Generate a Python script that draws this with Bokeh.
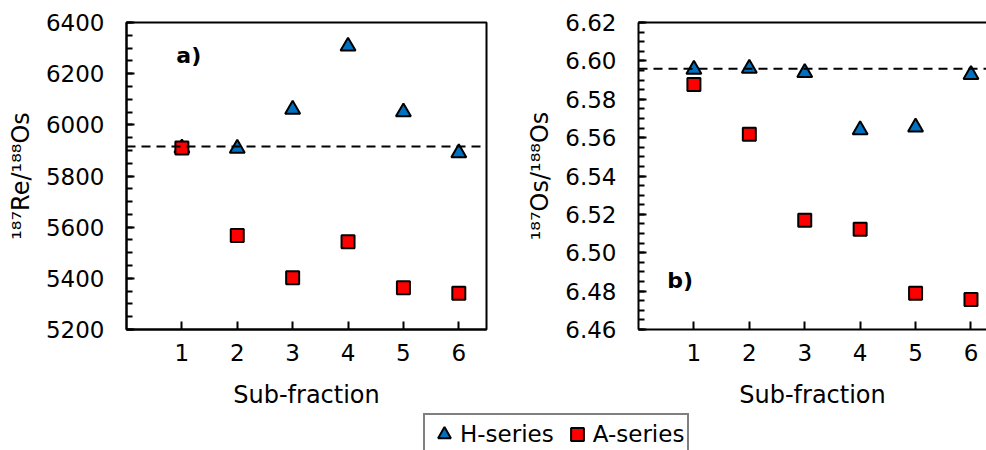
from bokeh.plotting import figure
from bokeh.layouts import column, row
from bokeh.models import (FixedTicker, PrintfTickFormatter, Span, Label, Legend,
                          LegendItem, LinearAxis, Range1d)
from bokeh.embed import file_html
from bokeh.resources import INLINE

# Sub-fractions and measured isotope ratios
sub_fraction = [1, 2, 3, 4, 5, 6]
re_os_h = [5909, 5908, 6060, 6307, 6050, 5890]
re_os_a = [5909, 5567, 5402, 5543, 5363, 5342]
os_os_h = [6.5956, 6.5961, 6.5939, 6.5640, 6.5654, 6.5928]
os_os_a = [6.5877, 6.5618, 6.5170, 6.5123, 6.4789, 6.4756]

# Reference ratios (dashed lines)
re_os_ref = 5915
os_os_ref = 6.5959

# Axis ticks
x_ticks = [1, 2, 3, 4, 5, 6]
re_os_ticks = [5200, 5400, 5600, 5800, 6000, 6200, 6400]
re_os_minor = [5200 + 50 * i for i in range(25)]
os_os_ticks = [6.46, 6.48, 6.50, 6.52, 6.54, 6.56, 6.58, 6.60, 6.62]
os_os_minor = [round(6.46 + 0.005 * i, 3) for i in range(33)]

FONT = "DejaVu Sans"
BLUE = "#0070C0"
RED = "#FF0000"
TICK_SIZE = "23px"
TITLE_SIZE = "24px"
ROW_H = 412
FRAME_BOTTOM = 329


def style_panel(p, yticks, yminor):
    p.xgrid.visible = False
    p.ygrid.visible = False
    for ax in (p.xaxis[0], p.yaxis[0]):
        ax.axis_line_color = "black"
        ax.axis_line_width = 2
        ax.major_tick_line_color = "black"
        ax.major_tick_line_width = 2
        ax.major_tick_in = 8
        ax.major_tick_out = 0
        ax.minor_tick_line_color = "black"
        ax.minor_tick_line_width = 2
        ax.minor_tick_in = 6
        ax.minor_tick_out = 0
        ax.major_label_text_font = FONT
        ax.major_label_text_font_size = TICK_SIZE
        ax.major_label_text_color = "black"
        ax.axis_label_text_font = FONT
        ax.axis_label_text_font_size = TITLE_SIZE
        ax.axis_label_text_font_style = "normal"
        ax.axis_label_text_color = "black"
    p.xaxis[0].ticker = FixedTicker(ticks=x_ticks)
    p.xaxis[0].minor_tick_line_color = None
    p.xaxis[0].major_label_standoff = 14
    p.xaxis[0].axis_label_standoff = 17
    p.xaxis[0].axis_label = "Sub-fraction"
    p.yaxis[0].ticker = FixedTicker(ticks=yticks, minor_ticks=yminor)
    p.yaxis[0].major_label_standoff = 22
    p.yaxis[0].axis_label_standoff = 8
    p.yaxis[0].major_label_orientation = "horizontal"


def add_points(p, yh, ya):
    rh = p.scatter(sub_fraction, yh, marker="triangle", size=15,
                   fill_color=BLUE, line_color="black", line_width=2)
    ra = p.scatter(sub_fraction, ya, marker="square", size=13,
                   fill_color=RED, line_color="black", line_width=2)
    return rh, ra


# Panel a) 187Re/188Os
pa = figure(width=505, height=ROW_H, x_range=Range1d(0, 6.5),
            y_range=Range1d(5200, 6400), output_backend="svg",
            toolbar_location=None, min_border_left=126, min_border_right=19,
            min_border_top=22, min_border_bottom=ROW_H - FRAME_BOTTOM)
pa.outline_line_color = "black"
pa.outline_line_width = 2
pa.outline_line_alpha = 1
style_panel(pa, re_os_ticks, re_os_minor)
pa.yaxis[0].axis_label = "¹⁸⁷Re/¹⁸⁸Os"
pa.add_layout(Span(location=re_os_ref, dimension="width", line_color="black",
                   line_width=2, line_dash="9 6"))
add_points(pa, re_os_h, re_os_a)
pa.add_layout(Label(x=0.9, y=6272, text="a)", text_font=FONT, text_font_size="22px",
                    text_font_style="bold", text_baseline="middle", text_color="black"))

# Panel b) 187Os/188Os
pb = figure(width=481, height=ROW_H, x_range=Range1d(0, 6.28),
            y_range=Range1d(6.46, 6.62), output_backend="svg",
            toolbar_location=None, min_border_left=133, min_border_right=0,
            min_border_top=22, min_border_bottom=ROW_H - FRAME_BOTTOM)
pb.outline_line_color = None
style_panel(pb, os_os_ticks, os_os_minor)
pb.yaxis[0].axis_label = "¹⁸⁷Os/¹⁸⁸Os"
pb.yaxis[0].formatter = PrintfTickFormatter(format="%.2f")
top = LinearAxis(ticker=FixedTicker(ticks=[]), axis_line_color="black",
                 axis_line_width=2, major_tick_line_color=None,
                 minor_tick_line_color=None, major_label_text_color=None)
pb.add_layout(top, "above")
pb.add_layout(Span(location=os_os_ref, dimension="width", line_color="black",
                   line_width=2, line_dash="9 6"))
add_points(pb, os_os_h, os_os_a)
pb.add_layout(Label(x=0.52, y=6.4855, text="b)", text_font=FONT, text_font_size="22px",
                    text_font_style="bold", text_baseline="middle", text_color="black"))

# Shared legend strip underneath both panels; its y-range keeps the
# series themselves out of view so only the legend box shows.
pl = figure(width=986, height=450 - ROW_H, x_range=Range1d(0, 7),
            y_range=Range1d(0, 1), output_backend="svg",
            toolbar_location=None, min_border=0)
pl.axis.visible = False
pl.grid.visible = False
pl.outline_line_color = None
lh, la = add_points(pl, re_os_h, re_os_a)
legend = Legend(items=[LegendItem(label="H-series", renderers=[lh]),
                       LegendItem(label="A-series", renderers=[la])],
                orientation="horizontal", location=(423, -5),
                glyph_width=32, glyph_height=32, padding=3, spacing=7,
                label_standoff=0, label_text_font=FONT, label_text_font_size="23px",
                label_text_color="black", border_line_color="black",
                border_line_width=2, margin=0, background_fill_alpha=1)
pl.add_layout(legend)

layout = column(row(pa, pb), pl)
open("out.html", "w").write(file_html(layout, INLINE))
